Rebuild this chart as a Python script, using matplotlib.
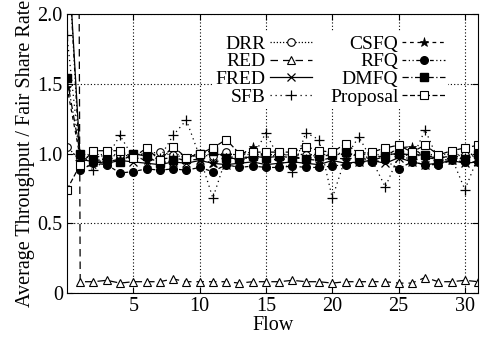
import matplotlib
matplotlib.use('Agg')
import matplotlib.pyplot as plt
import numpy as np

plt.rcParams['font.family'] = ['Liberation Serif', 'DejaVu Serif']
plt.rcParams['font.size'] = 14.5

# Giá trị (flow 0..31)
flows = np.arange(32)

drr = [1.05, 0.95, 0.97, 0.99, 0.98, 0.99, 1.00, 1.01, 0.99, 0.97, 0.99, 0.98, 1.01, 0.98, 0.97, 0.99,
       0.98, 1.00, 0.99, 0.98, 0.99, 1.00, 0.98, 0.97, 0.99, 1.00, 0.98, 0.99, 0.97, 0.98, 0.99, 1.00]
red = [25.0, 0.08, 0.08, 0.09, 0.07, 0.08, 0.08, 0.08, 0.10, 0.08, 0.08, 0.08, 0.08, 0.07, 0.08, 0.08,
       0.08, 0.09, 0.08, 0.08, 0.07, 0.08, 0.08, 0.08, 0.08, 0.07, 0.07, 0.11, 0.08, 0.08, 0.09, 0.08]
fred = [2.6, 0.96, 0.94, 0.93, 0.95, 0.94, 0.93, 0.92, 0.94, 0.93, 0.95, 0.93, 0.92, 0.93, 0.94, 0.92,
        0.93, 0.94, 0.93, 0.92, 0.95, 0.93, 0.94, 0.95, 0.93, 0.97, 0.94, 0.92, 0.93, 0.95, 0.93, 0.94]
sfb = [1.85, 0.95, 0.88, 0.97, 1.13, 0.97, 0.96, 0.97, 1.13, 1.24, 0.98, 0.68, 0.97, 0.96, 0.97, 1.15,
       0.96, 0.87, 1.15, 1.10, 0.68, 0.97, 1.12, 0.95, 0.76, 0.98, 0.96, 1.17, 0.95, 0.97, 0.74, 0.98]
csfq = [1.48, 0.97, 0.95, 0.94, 0.96, 0.98, 0.95, 0.96, 0.97, 0.95, 0.96, 0.93, 0.97, 0.98, 1.05, 0.97,
        0.95, 0.98, 0.96, 0.95, 0.97, 0.96, 0.97, 0.95, 0.98, 1.04, 1.05, 0.97, 0.96, 0.95, 0.97, 0.98]
rfq = [2.6, 0.88, 0.93, 0.92, 0.86, 0.87, 0.89, 0.88, 0.89, 0.88, 0.90, 0.87, 0.92, 0.90, 0.91, 0.90,
       0.90, 0.91, 0.90, 0.90, 0.91, 0.92, 0.94, 0.94, 0.95, 0.89, 0.94, 0.92, 0.92, 0.95, 0.94, 0.94]
dmfq = [1.54, 1.00, 0.95, 0.96, 0.94, 1.00, 0.98, 0.93, 0.95, 0.96, 1.00, 1.02, 0.97, 0.96, 0.98, 0.97,
        0.98, 0.97, 0.96, 0.98, 0.99, 1.01, 0.98, 0.96, 0.99, 1.00, 0.99, 0.99, 0.96, 0.99, 0.96, 1.00]
proposal = [0.74, 0.92, 1.02, 1.02, 1.02, 0.97, 1.04, 0.95, 1.05, 0.97, 1.00, 1.04, 1.10, 1.00, 1.01, 1.01,
            1.01, 1.01, 1.05, 1.02, 1.01, 1.07, 1.00, 1.01, 1.04, 1.06, 1.01, 1.06, 0.99, 1.02, 1.04, 1.06]

fig = plt.figure(figsize=(4.85, 3.37), dpi=100)
ax = fig.add_axes([0.138, 0.131, 0.848, 0.827])

ms = 5.5
ax.plot(flows, drr, color='black', lw=0.9, linestyle=(0, (1, 1.5)), marker='o', ms=ms,
        mfc='white', mec='black', mew=0.8, label='DRR')
ax.plot(flows, red, color='black', lw=0.9, linestyle=(0, (6, 4)), marker='^', ms=ms,
        mfc='white', mec='black', mew=0.8, label='RED')
ax.plot(flows, fred, color='black', lw=0.9, linestyle='-', marker='x', ms=ms,
        mec='black', mew=0.9, label='FRED')
ax.plot(flows, sfb, color='black', lw=0.9, linestyle=(0, (1, 3)), marker='+', ms=ms + 2,
        mec='black', mew=0.9, label='SFB')
ax.plot(flows, csfq, color='black', lw=0.9, linestyle=(0, (3, 3)), marker='*', ms=ms + 1,
        mfc='black', mec='black', mew=0.5, label='CSFQ')
ax.plot(flows, rfq, color='black', lw=0.9, linestyle=(0, (3, 2, 1, 2, 1, 2)), marker='o', ms=ms,
        mfc='black', mec='black', label='RFQ')
ax.plot(flows, dmfq, color='black', lw=0.9, linestyle=(0, (5, 2, 1, 2)), marker='s', ms=ms,
        mfc='black', mec='black', label='DMFQ')
ax.plot(flows, proposal, color='black', lw=0.9, linestyle=(0, (4, 2)), marker='s', ms=ms + 0.5,
        mfc='white', mec='black', mew=0.8, label='Proposal')

ax.set_xlim(0, 31)
ax.set_ylim(0, 2.0)
ax.set_xticks([5, 10, 15, 20, 25, 30])
ax.set_yticks([0, 0.5, 1.0, 1.5, 2.0])
ax.set_yticklabels(['0', '0.5', '1.0', '1.5', '2.0'])
ax.tick_params(direction='in', top=True, right=True, length=4, pad=3)
ax.grid(True, color='black', linestyle=(0, (1, 2)), lw=0.8)
ax.set_axisbelow(True)
ax.set_xlabel('Flow', labelpad=0)
ax.set_ylabel('Average Throughput / Fair Share Rate', labelpad=2)

leg = ax.legend(ncol=2, loc='upper right', bbox_to_anchor=(0.95, 0.97), markerfirst=False,
                fontsize=14, handlelength=2.2, handletextpad=0.2, columnspacing=0.9, labelspacing=0.0,
                borderpad=0.15, frameon=True, fancybox=False, framealpha=1)
leg.get_frame().set_edgecolor('none')

plt.savefig('out.png', dpi=100)
